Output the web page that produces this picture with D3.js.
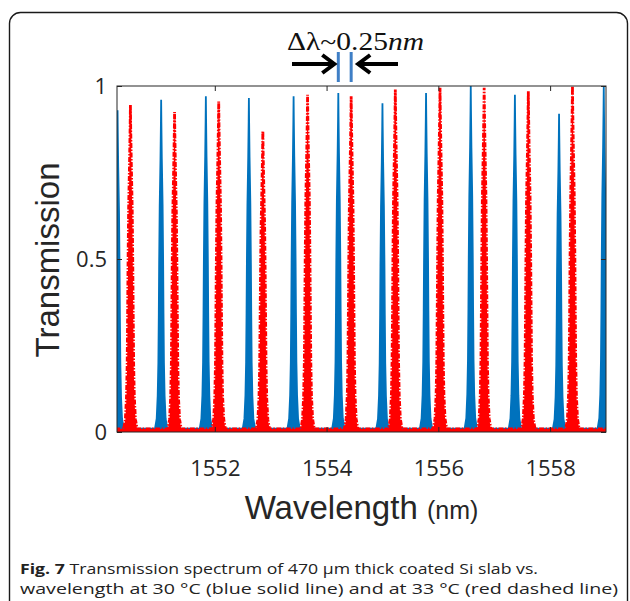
<!DOCTYPE html>
<html>
<head>
<meta charset="utf-8">
<script src="https://cdn.jsdelivr.net/npm/d3@7"></script>
<style>
  html, body { margin: 0; padding: 0; background: #fff; }
  svg { display: block; }
</style>
</head>
<body>
<svg id="chart" width="630" height="601"></svg>
<script>
// ---------------- data ----------------
const xDomain = [1550.25, 1559.0];
const yDomain = [0, 1];
const xTicks = [1552, 1554, 1556, 1558];
const yTicks = [0, 0.5, 1];
const yTickLabels = ["0", "0.5", "1"];

// blue solid line, 30 °C : peak centres (nm) and peak transmissions
const blueCenters = [1550.26, 1551.04, 1551.84, 1552.61, 1553.41, 1554.21, 1555.00, 1555.78, 1556.58, 1557.37, 1558.16, 1558.96];
const blueHeights = [0.93, 0.96, 0.97, 0.965, 0.97, 0.98, 0.95, 0.98, 1.0, 0.975, 0.92, 1.0];

// red dashed line, 33 °C
const redCenters = [1550.49, 1551.28, 1552.07, 1552.86, 1553.66, 1554.44, 1555.23, 1556.03, 1556.82, 1557.61, 1558.40];
const redHeights = [0.945, 0.925, 0.955, 0.87, 0.975, 0.97, 0.99, 0.995, 0.995, 0.985, 1.0];

// peak line shape: offset from centre (nm) -> fraction of peak
const blueProfileOffsets = [-0.11, -0.08, -0.062, -0.05, -0.042, -0.036, -0.026, -0.012, -0.004, 0, 0.004, 0.012, 0.026, 0.036, 0.042, 0.05, 0.062, 0.08, 0.11];
const blueProfileLevels  = [0, 0.03, 0.1, 0.2, 0.35, 0.5, 0.68, 0.82, 0.93, 1, 0.93, 0.82, 0.68, 0.5, 0.35, 0.2, 0.1, 0.03, 0];
const redProfileOffsets  = [-0.12, -0.09, -0.07, -0.058, -0.05, -0.043, -0.032, -0.016, -0.005, 0, 0.005, 0.016, 0.032, 0.043, 0.05, 0.058, 0.07, 0.09, 0.12];
const redProfileLevels   = [0, 0.03, 0.1, 0.2, 0.35, 0.5, 0.68, 0.82, 0.93, 1, 0.93, 0.82, 0.68, 0.5, 0.35, 0.2, 0.1, 0.03, 0];
const blueFloor = 0.01;
const redFloor = 0.009;

const annotationText = "Δλ~0.25";
const annotationUnit = "nm";
const xLabel = "Wavelength";
const xUnit = "(nm)";
const yLabel = "Transmission";
const captionBold = "Fig. 7";
const captionLine1 = " Transmission spectrum of 470 μm thick coated Si slab vs.";
const captionLine2 = "wavelength at 30 °C (blue solid line) and at 33 °C (red dashed line)";

// ---------------- layout ----------------
const M = { left: 117, right: 606, top: 86, bottom: 432 };
const BLUE = "#0072BD", RED = "#FF0000", AX = "#262626";

const svg = d3.select("#chart");

// frame
svg.append("rect")
  .attr("x", 9.5).attr("y", 12.5).attr("width", 618).attr("height", 600)
  .attr("rx", 11).attr("fill", "none").attr("stroke", "#1a1a1a").attr("stroke-width", 1.4);

const x = d3.scaleLinear().domain(xDomain).range([M.left, M.right]);
const y = d3.scaleLinear().domain(yDomain).range([M.bottom, M.top]);

svg.append("defs").append("clipPath").attr("id", "clip")
  .append("rect").attr("x", M.left).attr("y", M.top - 1)
  .attr("width", M.right - M.left).attr("height", M.bottom - M.top + 1);

function buildSeries(centers, heights, offs, levels, floor) {
  const pts = [[xDomain[0] - 0.2, floor]];
  centers.forEach((c, i) => {
    offs.forEach((o, j) => {
      pts.push([c + o, floor + (heights[i] - floor) * levels[j]]);
    });
  });
  pts.push([xDomain[1] + 0.2, floor]);
  pts.sort((a, b) => a[0] - b[0]);
  return pts;
}

const blueData = buildSeries(blueCenters, blueHeights, blueProfileOffsets, blueProfileLevels, blueFloor);
const redData = buildSeries(redCenters, redHeights, redProfileOffsets, redProfileLevels, redFloor);

const line = d3.line().x(d => x(d[0])).y(d => y(d[1]));
const area = d3.area().x(d => x(d[0])).y0(y(0)).y1(d => y(d[1]));

const plot = svg.append("g").attr("clip-path", "url(#clip)");

plot.append("path").datum(blueData).attr("d", area).attr("fill", BLUE);
plot.append("path").datum(blueData).attr("d", line)
  .attr("fill", "none").attr("stroke", BLUE).attr("stroke-width", 1.8);

plot.append("path").datum(redData).attr("d", area).attr("fill", RED);
plot.append("path").datum(redData).attr("d", line)
  .attr("fill", "none").attr("stroke", RED).attr("stroke-width", 2.8)
  .attr("stroke-dasharray", "5,1.5,1.5,1.5");

// box
svg.append("rect")
  .attr("x", M.left).attr("y", M.top)
  .attr("width", M.right - M.left).attr("height", M.bottom - M.top)
  .attr("fill", "none").attr("stroke", AX).attr("stroke-width", 1);

// axes (ticks inside, MATLAB style)
const tickFont = "'Open Sans', 'Noto Sans', sans-serif";
const gx = svg.append("g").attr("transform", `translate(0,${M.bottom})`)
  .call(d3.axisBottom(x).tickValues(xTicks).tickFormat(d3.format("d"))
    .tickSizeInner(-5).tickSizeOuter(0).tickPadding(28));
const gxTop = svg.append("g").attr("transform", `translate(0,${M.top})`)
  .call(d3.axisTop(x).tickValues(xTicks).tickFormat("").tickSizeInner(-5).tickSizeOuter(0));
const gy = svg.append("g").attr("transform", `translate(${M.left},0)`)
  .call(d3.axisLeft(y).tickValues(yTicks).tickFormat((d, i) => yTickLabels[i])
    .tickSizeInner(-5).tickSizeOuter(0).tickPadding(10));
const gyR = svg.append("g").attr("transform", `translate(${M.right},0)`)
  .call(d3.axisRight(y).tickValues(yTicks).tickFormat("").tickSizeInner(-5).tickSizeOuter(0));

[gx, gxTop, gy, gyR].forEach(g => {
  g.select(".domain").remove();
  g.selectAll(".tick line").attr("stroke", AX).attr("stroke-width", 1);
  g.selectAll(".tick text").attr("fill", AX).style("font-family", tickFont).style("font-size", "22px");
});

// axis labels
svg.append("text")
  .attr("transform", `translate(59,260) rotate(-90)`)
  .attr("text-anchor", "middle")
  .style("font-family", "'Liberation Sans', Arial, sans-serif").style("font-size", "33px")
  .attr("fill", AX).text(yLabel);

const xl = svg.append("text")
  .attr("x", (M.left + M.right) / 2).attr("y", 519)
  .attr("text-anchor", "middle")
  .style("font-family", "'Liberation Sans', Arial, sans-serif").style("font-size", "33px")
  .attr("fill", AX);
xl.append("tspan").text(xLabel + " ");
xl.append("tspan").style("font-size", "25px").text(xUnit);

// annotation
const ann = svg.append("text").attr("x", 287).attr("y", 50)
  .style("font-family", "'Liberation Serif', 'DejaVu Serif', serif").style("font-size", "26px")
  .attr("fill", "#111").attr("textLength", 137).attr("lengthAdjust", "spacingAndGlyphs");
ann.append("tspan").text(annotationText);
ann.append("tspan").style("font-style", "italic").text(annotationUnit);

const annBlue = "#3f7fc6";
[blueCenters[5], redCenters[5]].forEach(c => {
  svg.append("line").attr("x1", x(c)).attr("x2", x(c)).attr("y1", 52).attr("y2", 82)
    .attr("stroke", annBlue).attr("stroke-width", 3);
});
const arrowY = 64;
function arrow(x0, x1) {
  const dir = Math.sign(x1 - x0);
  svg.append("line").attr("x1", x0).attr("x2", x1 - dir * 2).attr("y1", arrowY).attr("y2", arrowY)
    .attr("stroke", "#000").attr("stroke-width", 4);
  svg.append("path")
    .attr("d", `M${x1 - dir * 12},${arrowY - 9} L${x1},${arrowY} L${x1 - dir * 12},${arrowY + 9}`)
    .attr("fill", "none").attr("stroke", "#000").attr("stroke-width", 4)
    .attr("stroke-linejoin", "miter").attr("stroke-linecap", "butt");
}
arrow(292, x(blueCenters[5]) - 4);
arrow(398, x(redCenters[5]) + 7);

// caption
const capFont = "'Open Sans', 'Noto Sans', sans-serif";
const c1 = svg.append("text").attr("x", 20).attr("y", 574)
  .style("font-family", capFont).style("font-size", "15px").attr("fill", "#222")
  .attr("textLength", 518).attr("lengthAdjust", "spacingAndGlyphs");
c1.append("tspan").style("font-weight", "bold").text(captionBold);
c1.append("tspan").text(captionLine1);
svg.append("text").attr("x", 20).attr("y", 594)
  .style("font-family", capFont).style("font-size", "15px").attr("fill", "#222")
  .attr("textLength", 598).attr("lengthAdjust", "spacingAndGlyphs")
  .text(captionLine2);
</script>
</body>
</html>
